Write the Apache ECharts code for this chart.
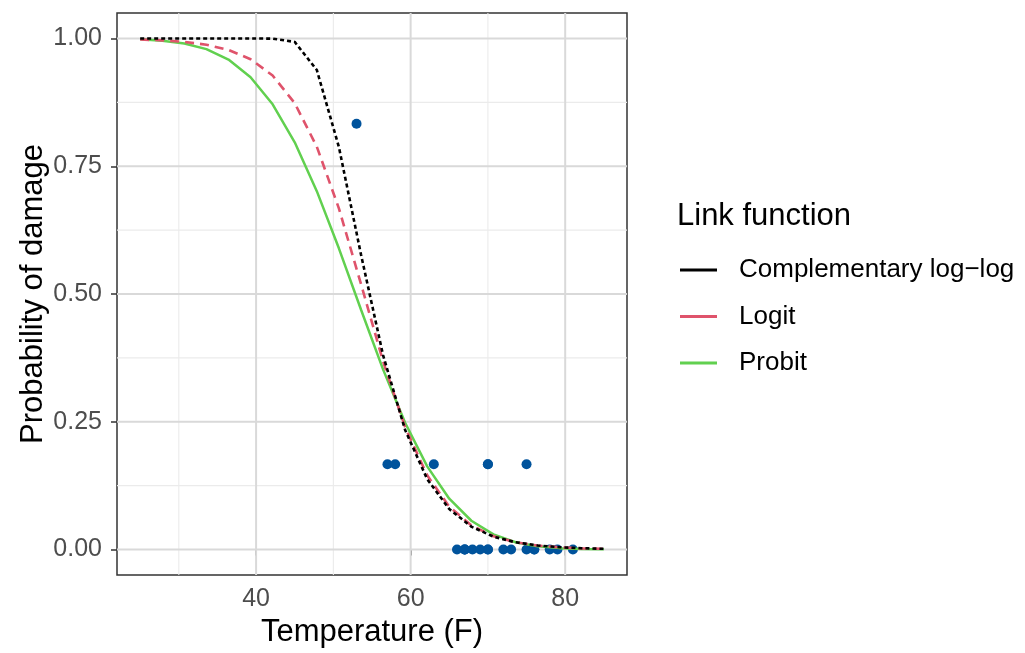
<!DOCTYPE html>
<html>
<head>
<meta charset="utf-8">
<script src="https://cdn.jsdelivr.net/npm/echarts@6/dist/echarts.min.js"></script>
<style>
html,body{margin:0;padding:0;background:#fff;}
#chart{width:1025px;height:653px;}
</style>
</head>
<body>
<div id="chart"></div>
<script>
// ---- data ----
var tempGrid = [25, 27.857, 30.714, 33.571, 36.429, 39.286, 42.143, 45, 47.857, 50.714, 53.571, 56.429, 59.286, 62.143, 65, 67.857, 70.714, 73.571, 76.429, 79.286, 82.143, 85];
var cloglogProb = [1, 1, 1, 1, 1, 1, 0.9999, 0.9934, 0.9385, 0.7878, 0.5776, 0.3805, 0.2338, 0.1376, 0.0790, 0.0447, 0.0251, 0.0140, 0.0078, 0.0044, 0.0024, 0.0013];
var logitProb = [0.9981, 0.9965, 0.9935, 0.9879, 0.9778, 0.9596, 0.9276, 0.8735, 0.7883, 0.6676, 0.5198, 0.3685, 0.2394, 0.1450, 0.0838, 0.0470, 0.0259, 0.0141, 0.0077, 0.0042, 0.0022, 0.0012];
var probitProb = [0.9984, 0.9959, 0.9904, 0.9793, 0.9588, 0.9244, 0.8713, 0.7969, 0.7013, 0.5894, 0.4696, 0.3525, 0.2479, 0.1627, 0.0993, 0.0562, 0.0294, 0.0142, 0.0063, 0.0026, 0.0010, 0.0003];
var obsTemp = [53, 57, 58, 63, 66, 67, 67, 67, 68, 69, 70, 70, 70, 70, 72, 73, 75, 75, 76, 76, 78, 79, 81];
var obsProp = [0.8333, 0.1667, 0.1667, 0.1667, 0, 0, 0, 0, 0, 0, 0.1667, 0, 0.1667, 0, 0, 0, 0, 0.1667, 0, 0, 0, 0, 0];
var seriesNames = ['Complementary log\u2212log', 'Logit', 'Probit'];
var xTicks = [40, 60, 80];
var xMinorTicks = [30, 50, 70];
var yTicks = [0, 0.25, 0.5, 0.75, 1];
var yMinorTicks = [0.125, 0.375, 0.625, 0.875];
var xLimits = [22, 88];
var yLimits = [-0.05, 1.05];

// ---- build ----
function pairs(xs, ys) { return xs.map(function (x, i) { return [x, ys[i]]; }); }
var FONT = 'Liberation Sans, Arial, Helvetica, sans-serif';
var majorStyle = { color: '#D9D9D9', width: 2, type: 'solid' };
var minorStyle = { color: '#EBEBEB', width: 1.1, type: 'solid' };

function gridSeries(vals, vertical, style) {
  return vals.map(function (v) {
    return {
      type: 'line', z: 1, silent: true, showSymbol: false, symbol: 'none',
      data: vertical ? [[v, yLimits[0]], [v, yLimits[1]]] : [[xLimits[0], v], [xLimits[1], v]],
      lineStyle: style, itemStyle: { color: style.color }, animation: false
    };
  });
}
var gridLineSeries = [].concat(
  gridSeries(xMinorTicks, true, minorStyle),
  gridSeries(yMinorTicks, false, minorStyle),
  gridSeries(xTicks, true, majorStyle),
  gridSeries(yTicks, false, majorStyle)
);

var chart = echarts.init(document.getElementById('chart'), null, { renderer: 'canvas' });
chart.setOption({
  animation: false,
  backgroundColor: '#ffffff',
  textStyle: { fontFamily: FONT },
  grid: { left: 117, right: 398, top: 13, bottom: 78, show: true, borderColor: '#333333', borderWidth: 1.5, backgroundColor: '#ffffff' },
  graphic: [{
    type: 'text', left: 677, top: 201,
    style: { text: 'Link function', fontSize: 31, fill: '#000000', fontFamily: FONT }
  }],
  legend: {
    data: seriesNames,
    orient: 'vertical',
    left: 680, top: 255,
    padding: 0,
    icon: 'rect',
    itemWidth: 37, itemHeight: 3,
    itemGap: 16.5,
    textStyle: { fontSize: 26, color: '#000000', lineHeight: 30, fontFamily: FONT, padding: [0, 0, 0, 17] },
    itemStyle: { borderWidth: 0 },
    selectedMode: false
  },
  xAxis: {
    type: 'value', min: xLimits[0], max: xLimits[1],
    name: 'Temperature (F)', nameLocation: 'middle', nameGap: 41,
    nameTextStyle: { fontSize: 31, color: '#000000', fontFamily: FONT },
    axisLine: { show: false },
    axisTick: { show: true, customValues: xTicks, length: 6, lineStyle: { color: '#333333', width: 1.5 } },
    axisLabel: { customValues: xTicks, fontSize: 25, color: '#4D4D4D', margin: 12, fontFamily: FONT },
    splitLine: { show: false }
  },
  yAxis: {
    type: 'value', min: yLimits[0], max: yLimits[1],
    name: 'Probability of damage', nameLocation: 'middle', nameGap: 67, nameRotate: 90,
    nameTextStyle: { fontSize: 31, color: '#000000', fontFamily: FONT },
    axisLine: { show: false },
    axisTick: { show: true, customValues: yTicks, length: 6, lineStyle: { color: '#333333', width: 1.5 } },
    axisLabel: { customValues: yTicks, fontSize: 25, color: '#4D4D4D', margin: 15, fontFamily: FONT,
      formatter: function (v) { return v.toFixed(2); } },
    splitLine: { show: false }
  },
  series: gridLineSeries.concat([
    {
      name: 'obs', type: 'scatter', z: 2, data: pairs(obsTemp, obsProp),
      symbol: 'circle', symbolSize: 10, itemStyle: { color: '#00539C', opacity: 1 }
    },
    {
      name: seriesNames[2], type: 'line', z: 3, data: pairs(tempGrid, probitProb),
      showSymbol: false, symbol: 'none', color: '#61D04F',
      lineStyle: { color: '#61D04F', width: 2.5, type: 'solid' }, itemStyle: { color: '#61D04F' }
    },
    {
      name: seriesNames[1], type: 'line', z: 4, data: pairs(tempGrid, logitProb),
      showSymbol: false, symbol: 'none', color: '#DF536B',
      lineStyle: { color: '#DF536B', width: 2.6, type: [9, 6], cap: 'butt' }, itemStyle: { color: '#DF536B' }
    },
    {
      name: seriesNames[0], type: 'line', z: 5, data: pairs(tempGrid, cloglogProb),
      showSymbol: false, symbol: 'none', color: '#000000',
      lineStyle: { color: '#000000', width: 2.6, type: [4, 3], cap: 'butt' }, itemStyle: { color: '#000000' }
    }
  ])
});
</script>
</body>
</html>
